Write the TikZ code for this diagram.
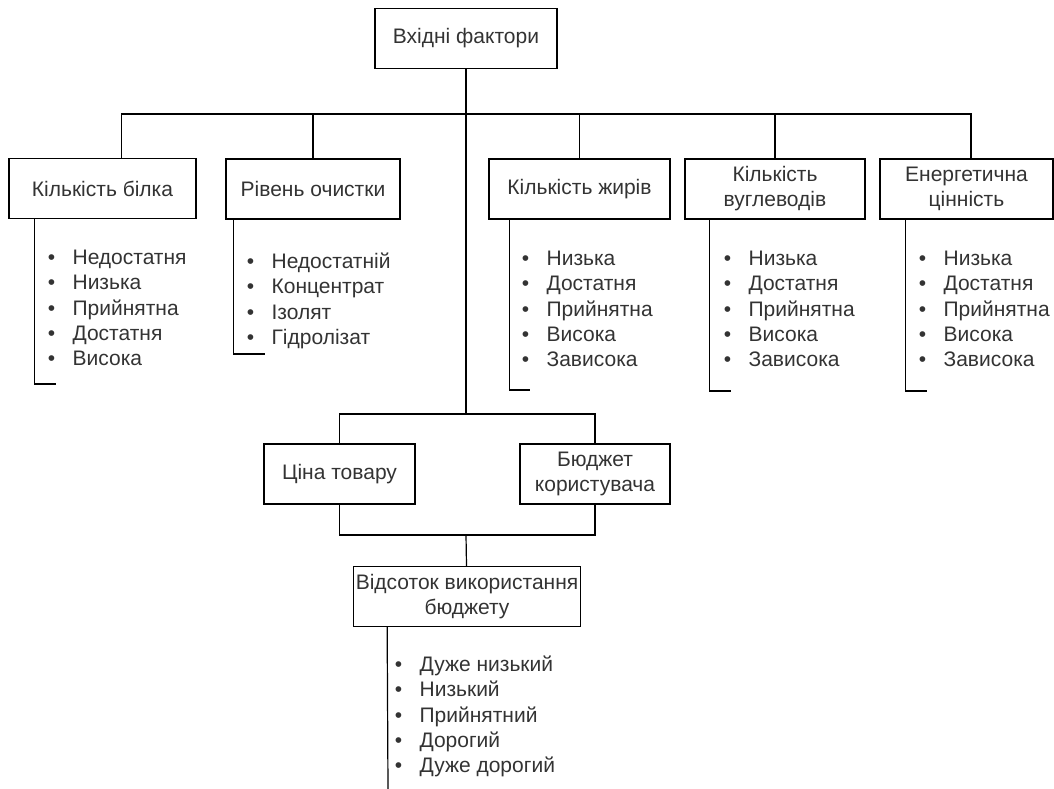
\documentclass[tikz,border=0pt]{standalone}
\usepackage{fontspec}
\setmainfont{Liberation Sans}
\usetikzlibrary{positioning}
\definecolor{mygray}{RGB}{51,51,51}
\newcommand{\bul}{\makebox[24.7pt][l]{•}}

\begin{document}
\begin{tikzpicture}[x=1pt,y=-1pt,
  line width=1.2pt,
  factor/.style={draw,rectangle,minimum height=60pt,inner sep=2pt,align=center,
    text=mygray,font=\fontsize{21}{25}\selectfont},
  items/.style={anchor=north west,inner sep=0pt,align=left,
    text=mygray,font=\fontsize{21}{25.3}\selectfont}
]
\useasboundingbox (0,0) rectangle (1054,789);

% the root
\node[factor,minimum width=182pt] (input) at (466,38.5) {Вхідні фактори};

% the factors of the product
\node[factor,minimum width=187pt] (protein) at (102.5,188.5) {Кількість білка};
\node[factor,minimum width=174pt] (purity) at (313,189) {Рівень очистки};
\node[factor,minimum width=181pt] (fats) at (579.5,189) {Кількість жирів};
\node[factor,minimum width=180pt] (carbs) at (775,189) {Кількість\\вуглеводів};
\node[factor,minimum width=173pt] (energy) at (966.5,189) {Енергетична\\цінність};

% the money
\node[factor,minimum width=151pt] (price) at (339.5,474) {Ціна товару};
\node[factor,minimum width=150pt] (budget) at (595,474) {Бюджет\\користувача};
\node[factor,minimum width=226pt] (share) at (467,596.5) {Відсоток використання\\бюджету};

% the values
\node[items] (lprotein) at (47.3,249.5) {\bul Недостатня\\\bul Низька\\\bul Прийнятна\\\bul Достатня\\\bul Висока};
\node[items] (lpurity) at (246.3,252.5) {\bul Недостатній\\\bul Концентрат\\\bul Ізолят\\\bul Гідролізат};
\node[items] (lfats) at (521.3,250.5) {\bul Низька\\\bul Достатня\\\bul Прийнятна\\\bul Висока\\\bul Зависока};
\node[items] (lcarbs) at (723.3,250.5) {\bul Низька\\\bul Достатня\\\bul Прийнятна\\\bul Висока\\\bul Зависока};
\node[items] (lenergy) at (918.3,250.5) {\bul Низька\\\bul Достатня\\\bul Прийнятна\\\bul Висока\\\bul Зависока};
\node[items] (lshare) at (394.3,655.5) {\bul Дуже низький\\\bul Низький\\\bul Прийнятний\\\bul Дорогий\\\bul Дуже дорогий};

% the joints
\coordinate (bus) at (466,114);
\coordinate (split) at (466,414);
\coordinate (joint) at (466,535);
\coordinate (eprotein) at (56,384);
\coordinate (epurity) at (265,354);
\coordinate (efats) at (530,390);
\coordinate (ecarbs) at (731,391);
\coordinate (eenergy) at (927,391);
\coordinate (eshare) at (388,789);

% the edges
\draw (input) -- (split);
\draw ([xshift=19pt]protein.north) |- (bus) -| ([xshift=4.5pt]energy.north);
\draw (purity) -- (purity |- bus);
\draw (fats) -- (fats |- bus);
\draw (carbs) -- (carbs |- bus);
\draw (price) |- (split) -| (budget);
\draw (price) |- (joint) -| (budget);
\draw (joint) -- (share);

% the brackets of the values
\draw ([xshift=26pt]protein.south west) |- (eprotein);
\draw ([xshift=8pt]purity.south west) |- (epurity);
\draw ([xshift=21pt]fats.south west) |- (efats);
\draw ([xshift=25pt]carbs.south west) |- (ecarbs);
\draw ([xshift=26pt]energy.south west) |- (eenergy);
\draw ([xshift=34pt]share.south west) -- (eshare);
\end{tikzpicture}
\end{document}
